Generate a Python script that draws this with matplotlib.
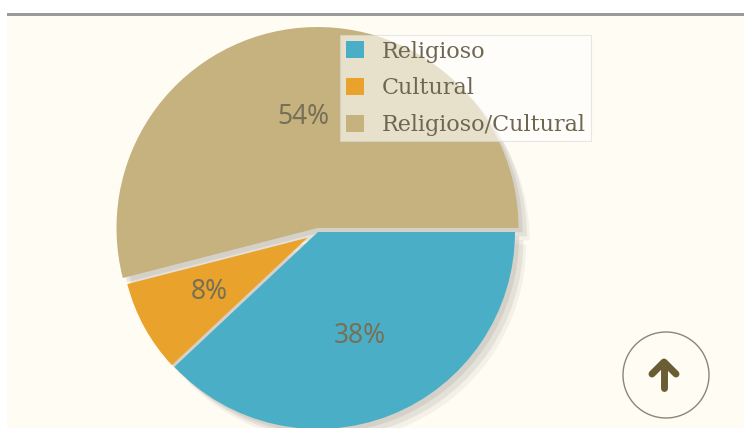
import matplotlib.pyplot as plt
from matplotlib.patches import Rectangle, Circle, Shadow

# data
labels = ['Religioso', 'Cultural', 'Religioso/Cultural']
shares = [38, 8, 54]
colors = ['#4aafc6', '#e9a22b', '#c5b27f']
explode_px = [0, 12, 4]
radii = [197, 186, 201]

W, H = 744, 428
fig = plt.figure(figsize=(W / 100, H / 100), dpi=100)
fig.patch.set_facecolor('white')
ax = fig.add_axes([0, 0, 1, 1])

# page background and top rule
ax.add_patch(Rectangle((7, 0), W - 7, H - 15, facecolor='#fffcf4', edgecolor='none', zorder=0))
ax.add_patch(Rectangle((7, H - 16), W - 7, 3, facecolor='#9b9b9b', edgecolor='none', zorder=0))

wedges, texts, autotexts = ax.pie(
    shares, colors=colors, explode=explode_px,
    center=(318, H - 232), radius=197,
    startangle=0, counterclock=False, frame=True,
    autopct=lambda p: f'{p:.0f}%', pctdistance=0.57,
    wedgeprops={'linewidth': 0, 'zorder': 3},
    textprops={'color': '#777055', 'fontsize': 19, 'family': 'Noto Sans'},
)
for w, r in zip(wedges, radii):
    w.set_radius(r)
# soft drop shadow
for w in wedges:
    for ox, oy, a in [(3, -3, 0.25), (6, -6, 0.2), (8, -9, 0.12)]:
        ax.add_patch(Shadow(w, ox, oy, facecolor='#a9a49a', edgecolor='none',
                            alpha=a, zorder=2))

ax.set_xlim(0, W)
ax.set_ylim(0, H)
ax.set_aspect('auto')
ax.axis('off')

leg = ax.legend(wedges, labels, loc='upper left', bbox_to_anchor=(340 / W, 1 - 35 / H),
                borderaxespad=0, fancybox=False, frameon=True,
                prop={'family': 'DejaVu Serif', 'size': 16},
                handlelength=0.82, handleheight=0.82, handletextpad=0.8,
                labelspacing=0.66, borderpad=0.25)
leg.set_zorder(10)
leg.get_frame().set_facecolor('white')
leg.get_frame().set_alpha(0.6)
leg.get_frame().set_edgecolor('#d8d8d8')
leg.get_frame().set_linewidth(0.8)
for t in leg.get_texts():
    t.set_color('#6e6650')

# back-to-top button
ax.add_patch(Circle((666, H - 375), 43, fill=False, edgecolor='#8c8577', linewidth=1, zorder=5))
ax.plot([664, 664], [H - 388, H - 365], color='#6b5d33', linewidth=5,
        solid_capstyle='round', zorder=6)
ax.plot([652, 664, 676], [H - 374, H - 362, H - 374], color='#6b5d33', linewidth=5,
        solid_capstyle='round', solid_joinstyle='round', zorder=6)

fig.savefig('out.png', dpi=100, facecolor=fig.get_facecolor())
